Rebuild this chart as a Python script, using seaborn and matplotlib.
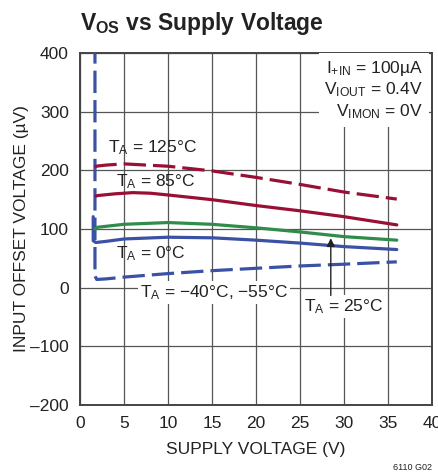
import numpy as np
import pandas as pd
import matplotlib
matplotlib.use("Agg")
import matplotlib.pyplot as plt
import seaborn as sns

# supply voltage (V) / offset (uV) per temperature
v_125 = [1.7, 1.8, 3, 5, 10, 15, 20, 25, 30, 36]
os_125 = [205, 207, 209, 211, 207, 199, 188, 176, 163, 151]

v_85 = [1.8, 2, 4, 6, 8, 10, 15, 20, 25, 30, 36]
os_85 = [156, 157, 160, 162, 161, 158, 150, 140, 131, 121, 107]

v_25 = [1.7, 2, 5, 10, 15, 20, 25, 30, 36]
os_25 = [100, 103, 108, 111, 108, 102, 95, 87, 81]

v_0 = [1.5, 1.5, 1.8, 3, 5, 10, 15, 20, 25, 30, 36]
os_0 = [121, 80, 77, 79, 83, 86, 85, 81, 76, 70, 65]

v_m40 = [1.7, 1.7, 1.9, 3, 5, 10, 15, 20, 25, 30, 36]
os_m40 = [420, 20, 14, 15, 18, 24, 29, 33, 37, 40, 44]

x_ticks = [0, 5, 10, 15, 20, 25, 30, 35, 40]
y_ticks = [-200, -100, 0, 100, 200, 300, 400]

RED = "#9a0f35"
GREEN = "#2f8c4a"
BLUE = "#3a51a6"
INK = "#222222"

sns.set_style("white")
plt.rcParams["font.family"] = ["Liberation Sans", "DejaVu Sans"]
plt.rcParams["mathtext.fontset"] = "custom"
plt.rcParams["mathtext.rm"] = "Liberation Sans"
plt.rcParams["mathtext.it"] = "Liberation Sans"
plt.rcParams["mathtext.bf"] = "Liberation Sans:bold"
plt.rcParams["mathtext.default"] = "regular"

fig = plt.figure(figsize=(4.39, 4.74), dpi=100)
ax = fig.add_axes([80 / 439, 1 - 405 / 474, 352 / 439, 352 / 474])

series = [
    (v_m40, os_m40, BLUE, (7, 2.2)),
    (v_0, os_0, BLUE, None),
    (v_25, os_25, GREEN, None),
    (v_85, os_85, RED, None),
    (v_125, os_125, RED, (7, 2.2)),
]
for xs, ys, col, dash in series:
    df = pd.DataFrame({"v": xs, "os": ys})
    sns.lineplot(data=df, x="v", y="os", ax=ax, sort=False, estimator=None,
                 color=col, lw=2.3, zorder=3)
    if dash is not None:
        ax.lines[-1].set_dashes(dash)

ax.set_xlim(0, 40)
ax.set_ylim(-200, 400)
ax.set_xticks(x_ticks)
ax.set_yticks(y_ticks)
ax.set_yticklabels([str(t).replace("-", "\u2013") for t in y_ticks])
ax.grid(True, color="#555555", lw=0.9, zorder=1)
ax.set_axisbelow(True)
ax.tick_params(length=0, labelsize=12.5, colors=INK, pad=8)
for s in ax.spines.values():
    s.set_color("#444444")
    s.set_linewidth(1.4)
ax.set_xlabel("SUPPLY VOLTAGE (V)", fontsize=12.5, color=INK, labelpad=8)
ax.set_ylabel("INPUT OFFSET VOLTAGE (\u00b5V)", fontsize=12.5, color=INK, labelpad=1)

lab = dict(fontsize=12.5, color=INK, ha="center", va="center", zorder=4)
wbox = dict(facecolor="white", edgecolor="none", pad=1.5)
ax.text(8.2, 238, r"T$_{A}$ = 125°C", **lab)
ax.text(8.6, 181, r"T$_{A}$ = 85°C", **lab)
ax.text(8.1, 58, r"T$_{A}$ = 0°C", **lab)
ax.text(15.2, -8, "T$_{A}$ = \u221240°C, \u221255°C", bbox=wbox, **lab)
ax.text(30, -32, r"T$_{A}$ = 25°C", bbox=wbox, **lab)
ax.annotate("", xy=(28.5, 89), xytext=(28.5, -18),
            arrowprops=dict(arrowstyle="-|>", color=INK, lw=1.0,
                            mutation_scale=12), zorder=4)

ax.text(39.0, 337, "I$_{+IN}$ = 100\u00b5A\nV$_{IOUT}$ = 0.4V\nV$_{IMON}$ = 0V",
        fontsize=12.5, color=INK, ha="right", va="center", linespacing=1.2,
        bbox=dict(facecolor="white", edgecolor="none", pad=4), zorder=4)

fig.text(80 / 439, 1 - 30 / 474, r"V$_{OS}$ vs Supply Voltage", fontsize=16.5,
         fontweight="bold", color=INK, ha="left", va="baseline")
fig.text(432 / 439, 1 - 467 / 474, "6110 G02", fontsize=6.5, color=INK,
         ha="right", va="center")

fig.savefig("out.png", dpi=100)
